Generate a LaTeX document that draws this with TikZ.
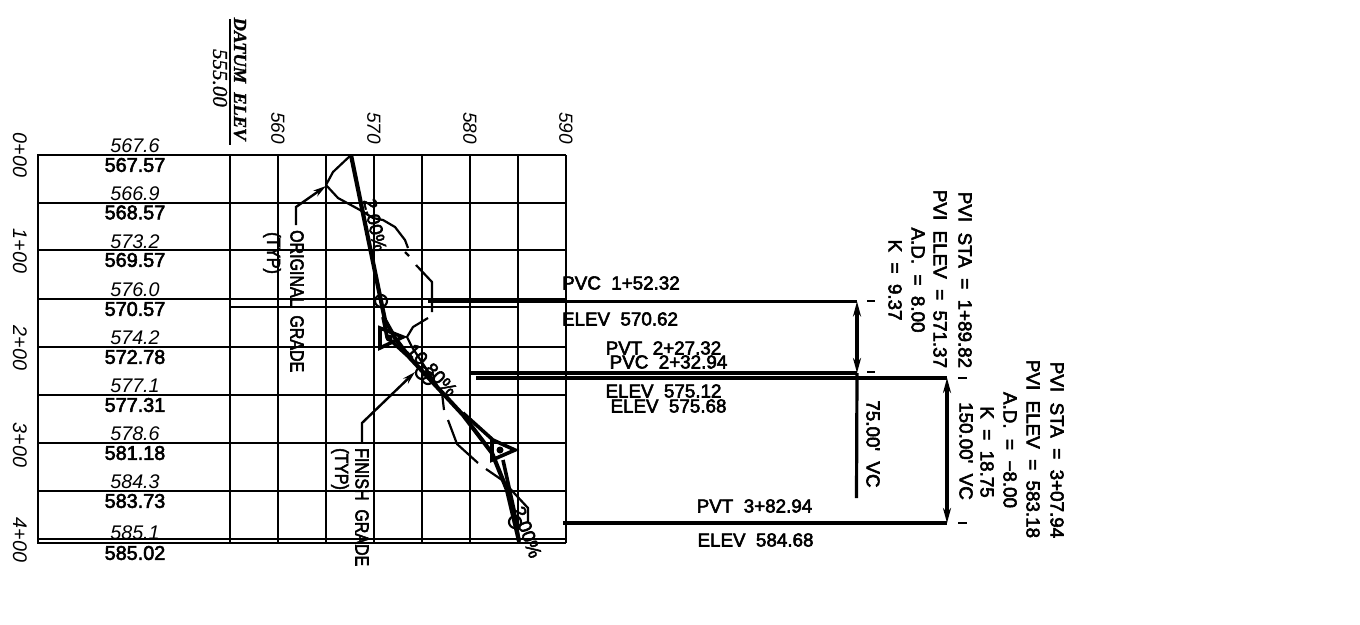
\documentclass[tikz,border=0pt]{standalone}
\usepackage{fontspec}
\setmainfont{Liberation Sans}
\newfontfamily\cadb[FakeBold=3]{Liberation Sans}
\newfontfamily\cadi{Liberation Sans Italic}
\newfontfamily\serb[FakeBold=1.5]{Liberation Serif Bold Italic}
\newfontfamily\seri[FakeBold=1]{Liberation Serif Italic}
\usetikzlibrary{arrows.meta}
\tikzset{
 grid/.style={line width=1.2pt},
 tab/.style={line width=2pt},
 tabthin/.style={line width=1.4pt},
 ogr/.style={line width=2.2pt,line join=round},
 fgr/.style={line width=4.2pt,line join=miter},
 pvi/.style={line width=3.6pt,line join=miter},
 ptm/.style={line width=2.2pt},
 lead/.style={line width=2.4pt,line join=miter},
 dim/.style={line width=3.2pt},
 tick/.style={line width=2.6pt},
 tipped/.style={-{Stealth[length=13pt,width=7pt]}},
 twotip/.style={{Stealth[length=15pt,width=8pt]}-{Stealth[length=15pt,width=8pt]}},
 bt/.style={font=\cadb\fontsize{18.8}{18.8}\selectfont,inner sep=0pt},
 btl/.style={font=\cadb\fontsize{19.8}{19.8}\selectfont,inner sep=0pt},
 it/.style={font=\cadi\fontsize{19.7}{19.7}\selectfont,inner sep=0pt},
 ax/.style={font=\cadi\fontsize{19}{19}\selectfont,inner sep=0pt,rotate=-90},
 rot/.style={rotate=-90},
 btop/.style={bt,rotate=-90,anchor=west,xscale=.85},
}
\begin{document}
\begin{tikzpicture}[x=1pt,y=-1pt]
\useasboundingbox (0,0) rectangle (1360,624);
% plot grid
\foreach \xv in {278,326,374,422,470,518,566} \draw[grid] (\xv,155) -- (\xv,543);
\foreach \yv in {155,203,250,299,347,395,443,491,539,543} \draw[grid] (230,\yv) -- (566,\yv);
\draw[tabthin] (230,307) -- (519,307);
% table
\foreach \yv in {155,203,250,299,347,395,443,491,539,543} \draw[tab] (38,\yv) -- (230,\yv);
\draw[tab] (38,154) -- (38,544);
\draw[tab] (230,154) -- (230,544);
\draw[tab] (229.5,19) -- (229.5,145);
% datum
\node[font=\serb\fontsize{18.4}{18.4}\selectfont,rot,inner sep=0pt] (datum) at (240,79) {DATUM\ \ ELEV};
\node[font=\seri\fontsize{21}{21}\selectfont,rot,inner sep=0pt] (datumv) at (220,78) {555.00};
% axis
\node[ax] (a560) at (278,128) {560};
\node[ax] (a570) at (374,128) {570};
\node[ax] (a580) at (470,128) {580};
\node[ax] (a590) at (566,128) {590};
% stations
\node[it,rot] (s0) at (20,155) {0+00};
\node[it,rot] (s1) at (20,251) {1+00};
\node[it,rot] (s2) at (20,348) {2+00};
\node[it,rot] (s3) at (20,445) {3+00};
\node[it,rot] (s4) at (20,540) {4+00};
% table values
\foreach \v/\yv/\nm in {567.6/146/a,566.9/193.5/b,573.2/241.5/c,576.0/290/d,574.2/337.5/e,577.1/386/f,578.6/433.5/g,584.3/481.5/h,585.1/533/i}
  \node[it] (og\nm) at (135,\yv) {\v};
\foreach \v/\yv/\nm in {567.57/165/a,568.57/212.5/b,569.57/260/c,570.57/309/d,572.78/357/e,577.31/405/f,581.18/453/g,583.73/501/h,585.02/553/i}
  \node[btl] (fg\nm) at (135,\yv) {\v};
% original grade
\draw[ogr] (351,155) -- (333,172) -- (326,185) -- (338,198) -- (360,210) -- (373,218) -- (383,220) -- (395,227) -- (405,240) -- (408,248);
\draw[ogr] (405,252) -- (409,256);
\draw[ogr] (416,265) -- (432,282) -- (432,312);
\draw[ogr] (428,318) -- (413,327) -- (407,337) -- (412,347) -- (442,393) -- (444,410);
\draw[ogr] (448,420) -- (457,444) -- (478,463);
\draw[ogr] (486,469) -- (502,480) -- (528,508) -- (528,523);
% finish grade
\draw[fgr] (351,155) -- (381,301) -- (385,320) -- (395,338) -- (410,358) -- (437,387) -- (463,415) -- (492,453) -- (507,490) -- (519,541);
\draw[pvi] (463,413) -- (493,440) -- (515,450) -- (492,460) -- (492,440);
\draw[pvi] (503,460) -- (514,510) -- (519,542);
\draw[pvi] (383,317) -- (387,337) -- (410,358);
\draw[pvi] (380,328) -- (403,337) -- (380,348) -- cycle;
\fill (389,338) circle (3.5pt) (500,450) circle (3.5pt);
\draw[ptm] (381,301) circle (6pt);
\draw[ptm] (422,373) circle (6pt);
\draw[ptm] (428,378) circle (6pt);
\draw[ptm] (515,522) circle (6pt);
% grade text
\node[bt,rotate=-78] (g1) at (375,225) {2.00\%};
\node[bt,rotate=-47] (g2) at (432,370) {10.80\%};
\node[bt,rotate=-70] (g3) at (527,532) {2.00\%};
% leaders
\node[btop] (orig) at (297,230) {ORIGINAL\ \ GRADE};
\node[btop] (origt) at (272,232) {(TYP)};
\coordinate (origtip) at (326,186);
\draw[lead,tipped] (296,225) -- (296,207) -- (origtip);
\node[btop] (fin) at (362,448) {FINISH\ \ GRADE};
\node[btop] (fint) at (340,448) {(TYP)};
\coordinate (fintip) at (415,372);
\draw[lead,tipped] (362,442) -- (362,423) -- (fintip);
% station lines
\coordinate (l1a) at (428,301.5); \coordinate (l1b) at (857,301.5);
\coordinate (l2a) at (471,373); \coordinate (l2b) at (857,373);
\coordinate (l3a) at (476,378); \coordinate (l3b) at (947,378);
\coordinate (l4a) at (563,523); \coordinate (l4b) at (947,523);
\draw[dim] (l1a) -- (l1b);
\draw[dim] (l2a) -- (l2b);
\draw[dim] (l3a) -- (l3b);
\draw[dim] (l4a) -- (l4b);
\draw[dim,twotip] (l1b) -- (l2b);
\draw[dim] (l2b) -- (856.5,498);
\draw[dim,twotip] (l3b) -- (l4b);
\draw[tick] (867,301) -- (875,301);
\draw[tick] (867,372) -- (875,372);
\draw[tick] (958,378) -- (967,378);
\draw[tick] (958,523) -- (967,523);
% labels
\node[bt] (t1) at (621,283) {PVC\ \ 1+52.32};
\node[bt] (t2) at (620,319) {ELEV\ \ 570.62};
\node[bt] (t3) at (663.5,348) {PVT\ \ 2+27.32};
\node[bt] (t4) at (668.5,362) {PVC\ \ 2+32.94};
\node[bt] (t5) at (663.5,391) {ELEV\ \ 575.12};
\node[bt] (t6) at (668.5,406) {ELEV\ \ 575.68};
\node[bt] (t7) at (754.5,506) {PVT\ \ 3+82.94};
\node[bt] (t8) at (755.5,540) {ELEV\ \ 584.68};
\node[bt,rot] (p1) at (965,280) {PVI\ \ STA\ \ =\ \ 1+89.82};
\node[bt,rot] (p2) at (940,279) {PVI\ \ ELEV\ \ =\ \ 571.37};
\node[bt,rot] (p3) at (918,280) {A.D.\ \ =\ \ 8.00};
\node[bt,rot] (p4) at (895,280) {K\ \ =\ \ 9.37};
\node[bt,rot] (q1) at (1057,450) {PVI\ \ STA\ \ =\ \ 3+07.94};
\node[bt,rot] (q2) at (1033,449) {PVI\ \ ELEV\ \ =\ \ 583.18};
\node[bt,rot] (q3) at (1010,450) {A.D.\ \ =\ \ −8.00};
\node[bt,rot] (q4) at (987,452) {K\ \ =\ \ 18.75};
\node[bt,rot] (vc1) at (873,444) {75.00'\ \ VC};
\node[bt,rot] (vc2) at (966,451) {150.00'\ \ VC};
\end{tikzpicture}
\end{document}
